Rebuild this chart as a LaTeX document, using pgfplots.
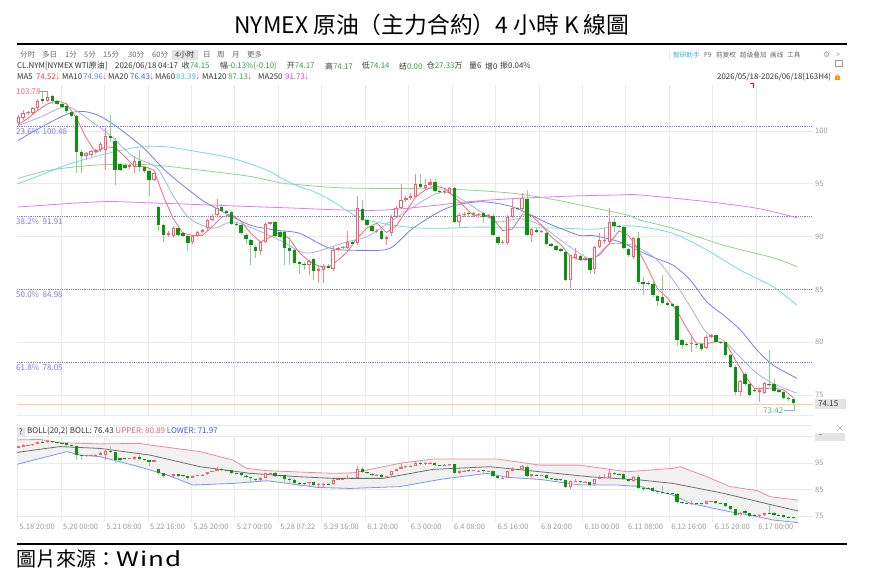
\documentclass[border=0pt]{standalone}
\usepackage{pgfplots}
\pgfplotsset{compat=1.18}
\usepackage{pgfplotstable}
\usepackage{fontspec}
\setmainfont{Noto Sans CJK SC}
\newfontfamily\tcfont{Noto Sans CJK TC}
\newfontfamily\dejavu{DejaVu Sans}
\definecolor{gridc}{HTML}{EAEAEA}
\definecolor{labgray}{HTML}{9A9A9A}
\definecolor{fibc}{HTML}{7B7BEA}
\definecolor{orangec}{HTML}{FFC79A}
\definecolor{ma5c}{HTML}{EE6A7C}
\definecolor{ma10c}{HTML}{A4B4D8}
\definecolor{ma20c}{HTML}{6F82EA}
\definecolor{ma60c}{HTML}{73D9F0}
\definecolor{ma120c}{HTML}{8ED38E}
\definecolor{ma250c}{HTML}{E07CF0}
\definecolor{wickred}{HTML}{F4848E}
\definecolor{bodyred}{HTML}{F06070}
\definecolor{wickgreen}{HTML}{8ED08E}
\definecolor{bodygreen}{HTML}{109010}
\definecolor{bollup}{HTML}{EC8C98}
\definecolor{bollmid}{HTML}{6E6E6E}
\definecolor{bolllo}{HTML}{7C96F2}
\definecolor{bollfill}{HTML}{F1F1F1}
\definecolor{valgreen}{HTML}{2E9E3E}
\definecolor{textdark}{HTML}{333333}
\definecolor{textgray}{HTML}{666666}
\definecolor{cyanc}{HTML}{3AAED8}
\definecolor{arrowred}{HTML}{E8404F}
\definecolor{mavA}{HTML}{E8404F}
\definecolor{mavB}{HTML}{6B82C8}
\definecolor{mavC}{HTML}{3E5CE0}
\definecolor{mavD}{HTML}{3EC4E6}
\definecolor{mavE}{HTML}{3CAF3C}
\definecolor{mavF}{HTML}{E03CE8}
\definecolor{redlab}{HTML}{E86A78}
\definecolor{greenlab}{HTML}{5FB07F}
\definecolor{leaderc}{HTML}{7FB8D8}
\definecolor{boxc}{HTML}{E3E3E3}

\pgfplotstableread{
i o h l c
0 100.8 101.5 100.6 101.3
1 101.2 102.0 101.0 101.7
2 101.7 101.9 101.5 101.8
3 101.7 102.3 101.5 102.15
4 102.2 103.0 102.0 102.8
5 103.0 103.7 102.6 102.8
6 102.8 103.78 102.7 103.25
7 103.3 103.4 102.6 102.8
8 102.8 102.9 102.5 102.6
9 102.6 102.7 102.2 102.3
10 102.4 102.5 101.7 101.9
11 101.8 101.9 101.3 101.4
12 101.4 101.5 96.0 98.0
13 98.0 98.2 96.0 97.6
14 97.6 98.0 97.3 97.9
15 97.7 98.2 97.5 98.1
16 98.0 98.3 97.8 98.2
17 98.2 99.0 98.0 98.8
18 98.2 100.3 96.3 99.5
19 99.5 101.5 99.0 99.3
20 99.1 99.3 94.9 96.3
21 96.9 97.0 96.2 96.3
22 96.8 97.0 96.4 96.5
23 96.6 96.9 96.4 96.8
24 96.6 97.6 96.0 97.2
25 97.2 98.2 96.1 96.6
26 96.6 96.7 96.0 96.2
27 96.2 96.3 93.8 95.4
28 95.4 96.2 95.3 96.0
29 92.8 92.9 90.5 91.1
30 91.1 91.2 89.5 90.2
31 90.2 90.5 90.0 90.3
32 90.1 91.0 89.9 90.8
33 90.8 90.9 90.0 90.2
34 90.3 90.4 90.0 90.1
35 90.1 90.2 88.6 89.4
36 89.5 90.2 89.3 90.1
37 90.1 90.5 90.0 90.4
38 90.4 90.7 90.3 90.6
39 90.8 91.7 90.6 91.6
40 91.6 92.1 91.5 91.95
41 92.0 93.6 91.9 92.7
42 92.8 93.1 92.3 92.4
43 92.4 92.5 92.1 92.2
44 92.3 92.4 91.1 91.2
45 91.2 91.3 91.0 91.1
46 91.1 91.2 90.2 90.3
47 90.2 90.3 89.3 89.8
48 89.7 89.8 87.3 89.2
49 89.0 89.1 88.0 88.6
50 88.6 89.6 88.3 89.5
51 89.5 91.4 89.4 91.2
52 91.2 91.4 91.1 91.35
53 91.4 91.5 90.0 90.05
54 90.4 90.5 89.9 90.0
55 90.4 90.6 87.3 88.9
56 88.9 90.0 87.3 88.6
57 88.7 88.8 87.4 87.5
58 87.6 87.7 86.5 87.4
59 87.4 87.6 86.8 87.3
60 87.3 87.8 86.4 87.7
61 87.9 88.0 85.9 86.7
62 86.7 87.3 85.6 86.9
63 86.84 87.4 85.6 87.25
64 87.25 87.4 87.0 87.0
65 86.9 89.0 86.7 88.7
66 88.7 89.0 88.6 88.9
67 88.9 89.1 88.8 89.0
68 88.9 90.5 88.8 89.45
69 89.5 89.6 89.2 89.3
70 89.35 93.8 89.2 92.68
71 92.6 93.5 91.5 91.57
72 91.57 91.7 91.0 91.1
73 91.0 91.1 90.4 90.5
74 90.45 90.7 90.3 90.55
75 90.56 90.7 89.7 89.8
76 89.8 90.1 89.2 90.0
77 90.3 92.0 90.1 91.9
78 91.9 92.9 91.8 92.74
79 92.74 95.0 92.6 93.46
80 93.46 93.8 93.3 93.69
81 93.7 94.1 93.5 93.8
82 93.78 95.9 93.7 94.98
83 94.98 95.9 94.6 94.73
84 94.6 95.5 94.4 94.9
85 94.9 95.5 94.8 95.14
86 95.14 95.5 94.2 94.32
87 94.3 94.4 94.0 94.2
88 94.2 94.5 94.0 94.3
89 94.1 94.7 94.0 94.57
90 94.6 94.7 91.3 91.35
91 91.35 92.2 90.9 92.04
92 92.0 92.3 91.9 92.15
93 92.2 92.3 91.9 92.1
94 92.0 92.3 91.9 92.2
95 92.0 92.2 91.8 92.1
96 92.2 92.3 91.3 91.9
97 91.9 92.1 91.8 92.0
98 91.98 92.1 90.1 90.15
99 90.0 90.1 89.2 89.36
100 89.4 89.7 89.3 89.5
101 89.36 92.0 89.2 91.88
102 91.88 93.6 91.8 92.67
103 92.7 92.8 92.5 92.6
104 92.6 94.1 92.5 93.7
105 93.6 94.4 90.1 90.2
106 90.2 90.8 89.5 90.7
107 90.6 90.8 90.3 90.4
108 90.4 90.6 90.3 90.5
109 90.3 90.4 89.2 89.27
110 89.3 89.4 89.0 89.1
111 89.1 89.2 88.6 88.7
112 88.8 88.9 88.5 88.6
113 88.57 88.7 85.8 85.9
114 85.9 88.3 85.1 88.26
115 88.0 88.9 87.9 88.4
116 88.2 88.3 87.7 87.8
117 87.8 88.1 87.7 87.95
118 87.94 88.0 86.5 86.84
119 86.9 89.1 86.5 89.05
120 89.05 90.31 88.9 89.68
121 89.6 90.78 89.3 89.7
122 89.52 92.68 89.4 91.41
123 91.41 91.79 90.47 91.03
124 91.0 91.1 90.8 90.95
125 90.94 91.0 88.8 88.89
126 88.82 88.9 88.1 88.26
127 88.1 90.0 87.9 89.83
128 89.83 90.47 85.5 85.73
129 85.7 86.2 84.5 85.5
130 85.6 85.8 85.4 85.5
131 85.5 86.0 84.3 84.45
132 84.4 84.5 83.4 83.9
133 84.25 86.4 83.6 83.7
134 83.75 83.9 83.4 83.5
135 83.6 83.7 83.3 83.4
136 83.43 83.5 79.6 80.2
137 80.2 80.3 79.4 79.74
138 79.85 80.0 79.6 79.75
139 79.8 80.5 79.1 79.9
140 79.85 80.0 79.5 79.7
141 79.83 79.9 79.2 79.4
142 79.5 80.7 79.4 80.5
143 80.5 80.8 80.4 80.68
144 80.68 80.7 79.9 80.0
145 80.0 80.1 79.8 79.9
146 80.0 80.0 78.7 78.8
147 78.8 78.9 77.6 77.7
148 77.7 77.8 75.0 75.3
149 75.25 76.4 74.9 76.3
150 77.0 77.2 75.9 76.04
151 76.04 76.1 74.9 75.0
152 75.5 75.6 75.3 75.4
153 75.3 75.6 74.3 75.5
154 75.2 76.2 75.1 76.1
155 76.0 79.26 75.8 75.95
156 76.05 76.5 75.3 75.4
157 75.5 75.6 75.2 75.3
158 75.3 75.4 74.6 74.7
159 74.75 74.85 74.4 74.6
160 74.65 74.7 74.1 74.2
}\candledata

% #1 body width, #2 inner width, #3 inner offset, #4 min height for hollow
\newcommand\drawcandles[4]{%
\addplot[draw=none, mark=none, forget plot, restrict expr to domain={\thisrow{c}-\thisrow{o}}{0:1000},
  error bars/.cd, y dir=both, y explicit, error mark=none, error bar style={draw=wickred, line width=0.7pt}]
  table[x=i, y=c, y error plus expr={\thisrow{h}-\thisrow{c}}, y error minus expr={\thisrow{c}-\thisrow{l}}] {\candledata};
\addplot[draw=none, mark=none, forget plot, restrict expr to domain={\thisrow{o}-\thisrow{c}}{0.00001:1000},
  error bars/.cd, y dir=both, y explicit, error mark=none, error bar style={draw=wickgreen, line width=0.7pt}]
  table[x=i, y=c, y error plus expr={\thisrow{h}-\thisrow{c}}, y error minus expr={\thisrow{c}-\thisrow{l}}] {\candledata};
\addplot[draw=none, mark=none, forget plot, restrict expr to domain={\thisrow{c}-\thisrow{o}}{0:1000},
  error bars/.cd, y dir=minus, y explicit, error mark=none, error bar style={draw=bodyred, line width=#1}]
  table[x=i, y=c, y error minus expr={\thisrow{c}-\thisrow{o}}] {\candledata};
\addplot[draw=none, mark=none, forget plot, restrict expr to domain={\thisrow{c}-\thisrow{o}}{#4:1000},
  error bars/.cd, y dir=minus, y explicit, error mark=none, error bar style={draw=white, line width=#2}]
  table[x=i, y expr={\thisrow{c}-#3}, y error minus expr={\thisrow{c}-\thisrow{o}-2*#3}] {\candledata};
\addplot[draw=none, mark=none, forget plot, restrict expr to domain={\thisrow{o}-\thisrow{c}}{0.00001:1000},
  error bars/.cd, y dir=minus, y explicit, error mark=none, error bar style={draw=bodygreen, line width=#1}]
  table[x=i, y=o, y error minus expr={\thisrow{o}-\thisrow{c}}] {\candledata};
}

\newcommand\Ra[3]{\node[anchor=west,inner sep=0pt,font=\fontsize{7.5}{9}\selectfont,text=textgray] at (#1pt,-#2pt) {#3};}
\newcommand\Rc[3]{\node[anchor=west,inner sep=0pt,font=\fontsize{6.6}{8}\selectfont,text=textgray] at (#1pt,-#2pt) {#3};}
\newcommand\Rb[3]{\node[anchor=west,inner sep=0pt,font=\fontsize{7.9}{9}\selectfont,text=textdark] at (#1pt,-#2pt) {#3};}
\newcommand\G[1]{\textcolor{valgreen}{#1}}
\newcommand\Ar{\textcolor{arrowred}{\makebox[3.6pt][l]{\scalebox{0.48}[1]{↓}}}}

\begin{document}
\begin{tikzpicture}
\fill[white] (0pt,0pt) rectangle (874pt,-588pt);

% title and rules
\node[anchor=center, inner sep=0pt, font=\tcfont\fontsize{22.8}{26}\selectfont] at (432pt,-25pt) {NYMEX 原油（主力合約）4 小時 K 線圖};
\draw[line width=1.2pt] (17pt,-44pt) -- (847pt,-44pt);
\draw[line width=1.2pt] (17pt,-544pt) -- (847pt,-544pt);
\node[anchor=west, inner sep=0pt, font=\tcfont\fontsize{20}{22}\selectfont] at (16pt,-559pt) {圖片來源：\addfontfeature{LetterSpace=5}\scalebox{1.3}[1]{Wind}};

% header row 1
\fill[boxc] (172pt,-50pt) rectangle (198pt,-60pt);
\Ra{20}{55}{分时}\Ra{42}{55}{多日}\Ra{65}{55}{1分}\Ra{84}{55}{5分}\Ra{103}{55}{15分}
\Ra{128}{55}{30分}\Ra{152}{55}{60分}\Ra{175}{55}{\textcolor{textdark}{4小时}}\Ra{203}{55}{日}
\Ra{217}{55}{周}\Ra{232}{55}{月}\Ra{247}{55}{更多}
\draw[gridc, line width=0.8pt] (669pt,-50pt) -- (669pt,-60pt);
\Rc{673}{55}{\textcolor{cyanc}{智研助手}}\Rc{704}{55}{F9}\Rc{716}{55}{前复权}\Rc{740}{55}{超级叠加}
\Rc{770}{55}{画线}\Rc{787}{55}{工具}
\node[anchor=west,inner sep=0pt,font=\dejavu\fontsize{8}{9}\selectfont,text=labgray] at (823pt,-55pt) {⚙};
\Ra{836}{55}{\textcolor{labgray}{>}}
\draw[labgray, line width=0.6pt] (835pt,-60pt) rectangle (842pt,-66pt);
\fill[orange!80!yellow] (835pt,-76pt) rectangle (840pt,-80pt);
\draw[orange!80!yellow, line width=0.6pt] (836pt,-76pt) arc (180:0:1.5pt);

% header row 2
\Rb{17}{66}{CL.NYM[NYMEX WTI原油]}\Rb{115}{66}{2026/06/18 04:17}
\Rb{181.7}{66}{收\G{74.15}}\Rb{220}{66}{幅\G{-0.13\%(-0.10)}}\Rb{286.7}{66}{开\G{74.17}}
\Rb{325}{66}{高\G{74.17}}\Rb{361.7}{66}{低\G{74.14}}\Rb{399}{66}{结\G{0.00}}
\Rb{426.7}{66}{仓\G{27.33}万}\Rb{469}{66}{量6}\Rb{485}{66}{增0}\Rb{500}{66}{振0.04\%}

% header row 3
\Rb{17}{77}{MA5}\Rb{36}{77}{\textcolor{mavA}{74.52}\Ar}
\Rb{62}{77}{MA10}\Rb{83}{77}{\textcolor{mavB}{74.96}\Ar}
\Rb{108}{77}{MA20}\Rb{130}{77}{\textcolor{mavC}{76.43}\Ar}
\Rb{155}{77}{MA60}\Rb{176}{77}{\textcolor{mavD}{83.39}\Ar}
\Rb{202}{77}{MA120}\Rb{228}{77}{\textcolor{mavE}{87.13}\Ar}
\Rb{258}{77}{MA250}\Rb{285}{77}{\textcolor{mavF}{91.73}\Ar}
\Rb{717}{77}{2026/05/18-2026/06/18(163H4)}
\draw[red, line width=1pt] (750pt,-84pt) -- (753pt,-84pt) -- (753pt,-88pt);

% ---------------- main price panel ----------------
\begin{axis}[
  at={(17pt,-415pt)}, anchor=south west,
  scale only axis, width=796pt, height=330pt,
  xmin=-0.27, xmax=164.06, ymin=73.11, ymax=104.356,
  axis line style={draw=none}, tick style={draw=none}, major tick length=0pt,
  xtick={8.805,17.775,26.745,35.715,44.685,53.655,62.625,71.595,80.565,89.535,98.505,107.475,116.445,125.415,134.385,143.355,152.325},
  xticklabels={},
  ytick={75,80,85,90,95,100}, yticklabel pos=right,
  /pgf/number format/assume math mode=true,
  yticklabel style={font=\fontsize{7.5}{9}\selectfont, text=labgray, anchor=west, inner sep=2pt},
  xmajorgrids, ymajorgrids, major grid style={draw=gridc, line width=0.7pt},
]
\addplot[fibc, densely dotted, line width=0.8pt, forget plot] coordinates {(-0.27,100.48) (164.06,100.48)};
\addplot[fibc, densely dotted, line width=0.8pt, forget plot] coordinates {(-0.27,91.91) (164.06,91.91)};
\addplot[fibc, densely dotted, line width=0.8pt, forget plot] coordinates {(-0.27,84.98) (164.06,84.98)};
\addplot[fibc, densely dotted, line width=0.8pt, forget plot] coordinates {(-0.27,78.05) (164.06,78.05)};
\addplot[orangec, line width=0.9pt, forget plot] coordinates {(-0.27,74.15) (164.06,74.15)};

% MA250
\addplot[ma250c, line width=0.8pt, smooth] coordinates {(-0.06,92.8)(16.87,93.3)(27.19,93.2)(54.02,92.75)(74.67,92.5)(95.32,93.4)(111.83,93.8)(124.22,93.95)(128.35,93.94)(142.19,93.31)(152.51,92.68)(160.76,91.79)};
% MA120
\addplot[ma120c, line width=0.8pt, smooth] coordinates {(-0.06,95.5)(6.54,96.3)(16.87,96.8)(27.19,96.8)(37.51,96.3)(47.83,95.7)(54.02,95.1)(58.15,94.9)(67.86,94.6)(88.50,94.5)(102.13,94.1)(111.83,93.4)(115.96,93.0)(125.66,92.05)(128.35,91.57)(135.16,90.78)(145.49,89.2)(155.81,88.0)(160.76,87.15)};
% MA60
\addplot[ma60c, line width=0.8pt, smooth] coordinates {(-0.06,95.0)(4.48,95.8)(10.05,96.8)(16.87,97.7)(23.68,98.4)(27.19,98.5)(30.70,98.5)(37.51,98.0)(44.32,97.4)(51.35,96.3)(54.02,95.6)(58.15,94.7)(60.84,94.3)(64.35,93.5)(69.92,91.9)(74.67,91.3)(81.48,90.85)(88.50,90.8)(95.32,90.9)(111.83,90.8)(118.64,90.7)(124.22,91.0)(128.35,90.94)(135.16,90.3)(142.19,88.73)(148.99,86.84)(155.81,85.26)(160.76,83.5)};
% MA20
\addplot[ma20c, line width=0.8pt, smooth] coordinates {(-0.06,99.1)(10.67,101.7)(16.87,101.4)(25.12,98.7)(30.70,96.1)(37.51,93.6)(41.64,92.5)(47.83,91.1)(53.41,90.6)(58.15,90.3)(64.35,88.9)(71.16,88.7)(76.73,88.9)(81.48,90.8)(88.50,92.7)(95.32,93.3)(102.13,92.8)(109.15,91.3)(111.83,90.8)(115.96,90.1)(118.64,90.1)(124.22,89.5)(128.35,88.6)(131.86,87.9)(135.16,87.3)(138.68,85.9)(142.19,83.8)(145.49,82.6)(148.99,81.2)(152.51,79.26)(155.81,77.84)(160.76,76.58)};
% MA10
\addplot[ma10c, line width=0.8pt, smooth] coordinates {(-0.06,100.5)(4.48,101.3)(10.05,102.3)(14.80,101.0)(18.93,99.6)(23.68,97.6)(28.63,96.5)(31.93,93.9)(35.45,91.7)(40.19,90.8)(44.32,91.4)(49.9,90.5)(54.64,89.5)(58.15,88.6)(60.84,88.5)(67.86,89.5)(71.99,90.0)(76.73,91.4)(81.48,92.8)(86.44,94.1)(89.74,94.0)(95.32,92.4)(98.83,91.4)(103.57,91.7)(107.70,91.1)(112.45,89.5)(115.96,88.4)(118.64,87.9)(122.15,89.3)(126.90,89.2)(128.35,88.9)(131.86,87.8)(135.16,85.9)(138.68,83.4)(142.19,80.84)(145.49,80.2)(148.99,78.6)(152.51,77.05)(155.81,76.1)(160.76,75.16)};
% MA5
\addplot[ma5c, line width=0.8pt] coordinates {(0,100.6)(2,101.2)(4,101.95)(6,102.56)(8,102.85)(10,102.57)(12,101.24)(14,99.36)(16,97.96)(18,98.5)(20,98.42)(22,97.58)(24,96.62)(26,96.66)(28,96.28)(30,93.78)(32,91.68)(34,90.32)(36,90.12)(38,90.12)(40,90.93)(42,91.85)(44,92.09)(46,91.44)(48,90.32)(50,89.48)(52,89.97)(54,90.41)(56,89.77)(58,88.48)(60,87.7)(62,87.2)(64,87.11)(66,87.75)(68,88.61)(70,89.87)(72,90.82)(74,91.28)(76,90.39)(78,91.0)(80,92.36)(82,93.73)(84,94.42)(86,94.81)(88,94.57)(90,93.75)(92,92.88)(94,91.97)(96,92.09)(98,91.67)(100,90.58)(102,90.71)(104,92.07)(106,91.97)(108,91.1)(110,89.99)(112,89.23)(114,88.11)(116,87.79)(118,87.85)(120,88.26)(122,89.34)(124,90.55)(126,90.11)(128,88.73)(130,86.96)(132,85.02)(134,84.21)(136,82.94)(138,81.32)(140,79.86)(142,79.85)(144,80.06)(146,79.98)(148,78.34)(150,76.83)(152,75.61)(154,75.61)(156,75.67)(158,75.49)(160,74.75)};

\drawcandles{3.4pt}{1.4pt}{0.095}{0.28}
\end{axis}

% ---------------- BOLL panel ----------------
\begin{axis}[
  at={(17pt,-522pt)}, anchor=south west,
  scale only axis, width=796pt, height=85.5pt,
  xmin=-0.27, xmax=164.06, ymin=72.74, ymax=105,
  axis line style={draw=none}, tick style={draw=none}, major tick length=0pt,
  xtick={-0.165,8.805,17.775,26.745,35.715,44.685,53.655,62.625,71.595,80.565,89.535,98.505,107.475,116.445,125.415,134.385,143.355,152.325},
  xticklabels={5.18 20:00,5.20 00:00,5.21 08:00,5.22 16:00,5.25 20:00,5.27 00:00,5.28 07:22,5.29 16:00,6.1 20:00,6.3 00:00,6.4 08:00,6.5 16:00,6.8 20:00,6.10 00:00,6.11 08:00,6.12 16:00,6.15 20:00,6.17 00:00},
  xticklabel style={font=\fontsize{7.5}{9}\selectfont, text=labgray, anchor=north west, inner sep=2pt},
  ytick={75,85,95,105}, yticklabels={75,85,95,{}}, yticklabel pos=right,
  /pgf/number format/assume math mode=true,
  yticklabel style={font=\fontsize{7.5}{9}\selectfont, text=labgray, anchor=west, inner sep=2pt},
  xmajorgrids, ymajorgrids, major grid style={draw=gridc, line width=0.7pt},
]
\addplot[fill=bollfill, draw=none, forget plot] coordinates {(-0.27,103.7)(4.48,103.9)(8.61,102.7)(16.87,102.2)(25.12,102.4)(27.19,101.8)(37.51,99.3)(44.32,96.1)(47.1,93.0)(51.35,92.1)(64.97,91.1)(69.10,91.3)(78.80,94.9)(85.61,96.5)(98.83,96.5)(107.70,94.2)(115.96,94.2)(125.66,91.7)(135.16,93.0)(136.61,93.6)(142.19,89.8)(146.93,86.1)(152.51,84.6)(155.19,82.3)(160.97,81.0)
(160.97,72.5)(155.81,73.5)(152.51,74.8)(146.93,76.6)(138.68,79.8)(135.16,82.9)(128.35,86.1)(123.60,86.7)(115.96,86.7)(107.70,88.8)(100.89,89.6)(96.76,91.1)(87.06,88.8)(78.80,86.1)(68.48,85.4)(61.66,85.8)(58.15,86.7)(51.35,88.3)(44.32,87.3)(36.07,86.7)(30.70,90.5)(23.68,94.2)(16.87,97.4)(12.74,98.0)(10.05,99.3)(-0.27,94.5)};
\addplot[bollup, line width=0.8pt] coordinates {(-0.27,103.7)(4.48,103.9)(8.61,102.7)(16.87,102.2)(25.12,102.4)(27.19,101.8)(37.51,99.3)(44.32,96.1)(47.1,93.0)(51.35,92.1)(64.97,91.1)(69.10,91.3)(78.80,94.9)(85.61,96.5)(98.83,96.5)(107.70,94.2)(115.96,94.2)(125.66,91.7)(135.16,93.0)(136.61,93.6)(142.19,89.8)(146.93,86.1)(152.51,84.6)(155.19,82.3)(160.97,81.0)};
\addplot[bollmid, line width=0.8pt] coordinates {(-0.27,99.0)(8.61,101.2)(16.87,100.5)(27.19,98.0)(37.51,93.6)(47.83,91.1)(58.15,89.8)(64.97,89.2)(75.29,89.2)(85.61,92.6)(97.38,93.6)(107.70,91.7)(118.02,89.8)(128.35,88.6)(135.16,87.3)(145.49,83.6)(155.81,79.1)(160.97,76.9)};
\addplot[bolllo, line width=0.8pt] coordinates {(-0.27,94.5)(10.05,99.3)(12.74,98.0)(16.87,97.4)(23.68,94.2)(30.70,90.5)(36.07,86.7)(44.32,87.3)(51.35,88.3)(58.15,86.7)(61.66,85.8)(68.48,85.4)(78.80,86.1)(87.06,88.8)(96.76,91.1)(100.89,89.6)(107.70,88.8)(115.96,86.7)(123.60,86.7)(128.35,86.1)(135.16,82.9)(138.68,79.8)(146.93,76.6)(152.51,74.8)(155.81,73.5)(160.97,72.5)};
\drawcandles{3.2pt}{1.2pt}{0.38}{1.0}
\end{axis}

% panel separators
\draw[gridc, line width=0.7pt] (17pt,-415pt) -- (813pt,-415pt);
\draw[gridc, line width=0.7pt] (17pt,-425pt) -- (813pt,-425pt);

% annotations main panel
\node[anchor=west, inner sep=0pt, font=\fontsize{8}{9}\selectfont, text=redlab] at (16pt,-91.5pt) {103.78};
\draw[labgray, line width=0.6pt] (40pt,-91pt) -- (47pt,-91pt);
\node[anchor=west, inner sep=0pt, font=\fontsize{8}{9}\selectfont, text=fibc] at (16pt,-131.7pt) {23.6\%\ \ 100.48};
\node[anchor=west, inner sep=0pt, font=\fontsize{8}{9}\selectfont, text=fibc] at (16pt,-221.7pt) {38.2\%\ \ 91.91};
\node[anchor=west, inner sep=0pt, font=\fontsize{8}{9}\selectfont, text=fibc] at (16pt,-294.5pt) {50.0\%\ \ 84.98};
\node[anchor=west, inner sep=0pt, font=\fontsize{8}{9}\selectfont, text=fibc] at (16pt,-367.7pt) {61.8\%\ \ 78.05};
\fill[boxc] (815pt,-398.5pt) rectangle (846pt,-408.5pt);
\node[anchor=west, inner sep=0pt, font=\fontsize{8}{9}\selectfont, text=textdark] at (818pt,-403.5pt) {74.15};
\node[anchor=west, inner sep=0pt, font=\fontsize{8}{9}\selectfont, text=greenlab] at (763pt,-410.7pt) {73.42};
\draw[leaderc, line width=0.6pt] (784pt,-410.7pt) -- (794pt,-410.7pt) -- (794pt,-405pt);

% BOLL header
\fill[boxc] (17pt,-427pt) rectangle (25pt,-436pt);
\node[anchor=center, inner sep=0pt, font=\fontsize{7.5}{9}\selectfont, text=textdark] at (21pt,-431.5pt) {?};
\node[anchor=west, inner sep=0pt, font=\fontsize{8}{9}\selectfont, text=textdark] at (27pt,-431.5pt) {BOLL(20,2)\ BOLL: 76.43\ \textcolor{bodyred}{UPPER: 80.89}\ \textcolor{mavC}{LOWER: 71.97}};
\fill[boxc] (815pt,-432.5pt) rectangle (845pt,-441pt);
\node[anchor=west, inner sep=0pt, font=\fontsize{8}{9}\selectfont, text=textdark] at (819pt,-436.7pt) {-};
\node[anchor=center, inner sep=0pt, font=\fontsize{8}{9}\selectfont, text=labgray] at (840pt,-429pt) {×};
\end{tikzpicture}
\end{document}
